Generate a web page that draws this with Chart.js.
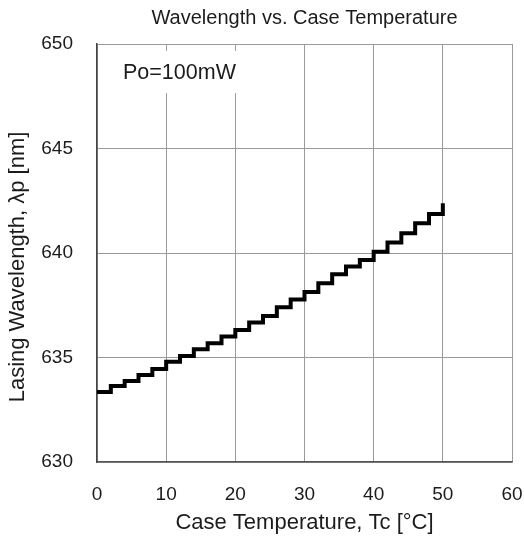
<!DOCTYPE html>
<html>
<head>
<meta charset="utf-8">
<title>Wavelength vs. Case Temperature</title>
<script src="https://cdn.jsdelivr.net/npm/chart.js@4.4.0/dist/chart.umd.min.js"></script>
<style>
    html, body { margin: 0; padding: 0; background: #fff; }
    #wrap { width: 524px; height: 540px; }
</style>
</head>
<body>
<div id="wrap"><canvas id="wlChart" width="524" height="540"></canvas></div>
<script>
// Case temperature (°C) at each step, and lasing wavelength (nm)
const caseTemps = [0, 2, 4, 6, 8, 10, 12, 14, 16, 18, 20, 22, 24, 26, 28, 30, 32, 34, 36, 38, 40, 42, 44, 46, 48, 50];
const wavelengths = [
    633.35, 633.64, 633.88, 634.16, 634.45, 634.80, 635.07, 635.39, 635.68, 636.00,
    636.32, 636.67, 636.99, 637.40, 637.78, 638.13, 638.55, 638.98, 639.35, 639.67,
    640.06, 640.50, 640.95, 641.42, 641.87, 642.38
];
const xTicks = [0, 10, 20, 30, 40, 50, 60];
const yTicks = [630, 635, 640, 645, 650];

const chartTitle = 'Wavelength vs. Case Temperature';
const noteText = 'Po=100mW';
const yTitle = 'Lasing Wavelength, \u03bbp [nm]';

document.addEventListener('DOMContentLoaded', () => {
    const FONT = "'Liberation Sans', Arial, sans-serif";
    const TEXT = '#1c1c1c';

    // title, rotated y-axis title and the "Po=100mW" label on a white patch
    const decorations = {
        id: 'decorations',
        beforeDatasetsDraw(chart) {
            const { ctx, chartArea } = chart;
            ctx.save();
            ctx.fillStyle = '#fff';
            ctx.fillRect(chartArea.left + 10, chartArea.top + 7, 142, 42);
            ctx.fillStyle = TEXT;
            ctx.font = '21.5px ' + FONT;
            ctx.textAlign = 'left';
            ctx.textBaseline = 'middle';
            ctx.fillText(noteText, chartArea.left + 26, chartArea.top + 29);
            ctx.restore();
        },
        afterDraw(chart) {
            const { ctx, chartArea } = chart;
            ctx.save();
            ctx.fillStyle = TEXT;
            ctx.font = '20px ' + FONT;
            ctx.textAlign = 'center';
            ctx.textBaseline = 'middle';
            ctx.fillText(chartTitle, (chartArea.left + chartArea.right) / 2, 18);

            ctx.font = '22px ' + FONT;
            ctx.translate(18, 267);
            ctx.rotate(-Math.PI / 2);
            ctx.fillText(yTitle, 0, 0);
            ctx.restore();
        }
    };

    new Chart(document.getElementById('wlChart'), {
        type: 'line',
        data: {
            datasets: [{
                data: caseTemps.map((t, i) => ({ x: t, y: wavelengths[i] })),
                borderColor: '#000',
                borderWidth: 4,
                stepped: true,
                pointRadius: 0,
                borderJoinStyle: 'miter',
                fill: false
            }]
        },
        options: {
            responsive: false,
            animation: false,
            layout: { padding: { top: 44, right: 12, left: 0, bottom: 0 } },
            plugins: {
                legend: { display: false },
                tooltip: { enabled: false }
            },
            scales: {
                x: {
                    type: 'linear',
                    min: xTicks[0],
                    max: xTicks[xTicks.length - 1],
                    afterBuildTicks: (axis) => { axis.ticks = xTicks.map(v => ({ value: v })); },
                    afterFit: (axis) => { axis.height = 78; },
                    grid: { color: '#9a9a9a', lineWidth: 1, drawTicks: true, tickLength: 20, tickColor: 'rgba(0,0,0,0)' },
                    border: { color: '#555', width: 1.5 },
                    ticks: { color: TEXT, font: { family: FONT, size: 19 }, padding: 1, maxRotation: 0 },
                    title: {
                        display: true,
                        text: 'Case Temperature, Tc [°C]',
                        color: TEXT,
                        font: { family: FONT, size: 22 },
                        padding: { top: 0, bottom: 4 }
                    }
                },
                y: {
                    min: yTicks[0],
                    max: yTicks[yTicks.length - 1],
                    afterBuildTicks: (axis) => { axis.ticks = yTicks.map(v => ({ value: v })); },
                    afterFit: (axis) => { axis.width = 97; },
                    grid: { color: '#9a9a9a', lineWidth: 1, drawTicks: false },
                    border: { color: '#444', width: 1.5 },
                    ticks: { color: TEXT, font: { family: FONT, size: 19 }, padding: 24 }
                }
            }
        },
        plugins: [decorations]
    });
});
</script>
</body>
</html>
